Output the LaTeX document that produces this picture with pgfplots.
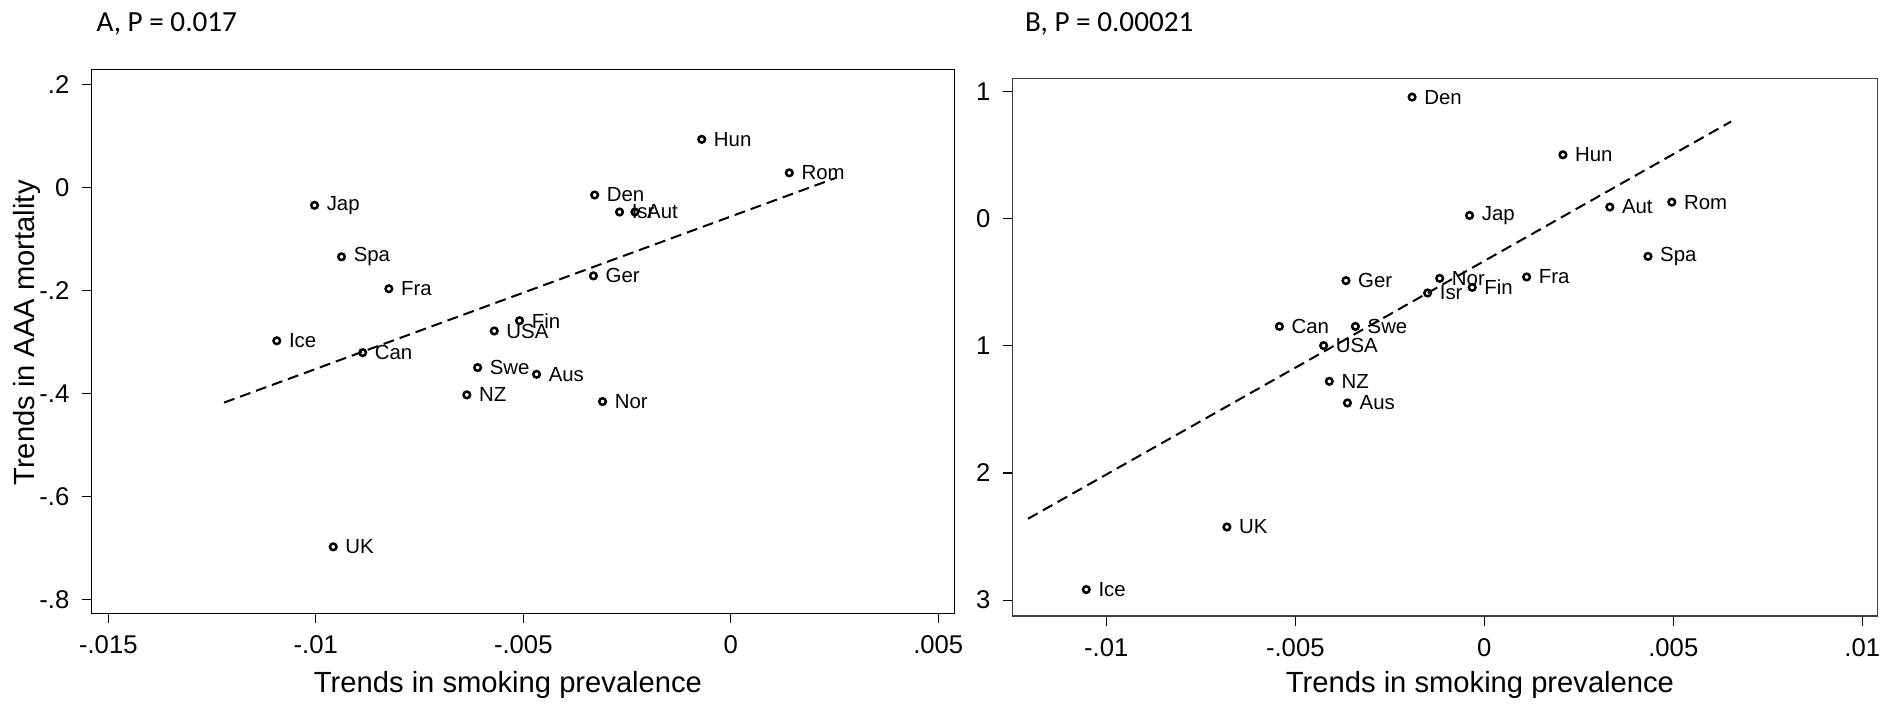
\documentclass[border=0pt]{standalone}
\usepackage{fontspec}
\setmainfont{Liberation Sans}
\newfontfamily\carlito{Carlito}
\usepackage{pgfplots}
\pgfplotsset{compat=1.18}
\usepackage{pgfplotstable}

\pgfplotstableread{
name x y
Hun -0.00070 0.093
Rom 0.00141 0.028
Den -0.00328 -0.015
Isr -0.00268 -0.048
Aut -0.00231 -0.048
Jap -0.01003 -0.035
Spa -0.00938 -0.135
Fra -0.00824 -0.197
Ger -0.00331 -0.172
Fin -0.00509 -0.259
USA -0.00570 -0.279
Ice -0.01094 -0.298
Can -0.00887 -0.321
Swe -0.00610 -0.350
Aus -0.00468 -0.363
NZ -0.00636 -0.403
Nor -0.00309 -0.416
UK -0.00958 -0.698
}\leftdata

\pgfplotstableread{
name x y
Den -0.00191 0.957
Hun 0.00208 0.503
Aut 0.00332 0.092
Rom 0.00496 0.131
Jap -0.00039 0.026
Spa 0.00433 -0.296
Ger -0.00366 -0.487
Nor -0.00118 -0.469
Fin -0.00032 -0.540
Isr -0.00150 -0.584
Fra 0.00112 -0.458
Can -0.00542 -0.847
Swe -0.00341 -0.847
USA -0.00425 -0.998
NZ -0.00410 -1.279
Aus -0.00362 -1.449
UK -0.00681 -2.425
Ice -0.01053 -2.917
}\rightdata

\begin{document}
\begin{tikzpicture}
\useasboundingbox (0,0) rectangle (19.01cm,7.04cm);
\pgfplotsset{
  panel/.style={
    anchor=south west, scale only axis,
    axis line style={line width=0.15mm},
    tick align=outside, xtick pos=bottom, ytick pos=left,
    major tick length=1mm,
    tick style={line width=0.12mm, black},
    ticklabel style={font=\fontsize{7.3}{8}\selectfont},
    scaled x ticks=false, scaled y ticks=false,
  },
  pts/.style={only marks, mark=o, mark size=0.33mm,
    mark options={line width=0.25mm, black},
    nodes near coords, point meta=explicit symbolic,
    every node near coord/.style={anchor=west, font=\fontsize{5.8}{6}\selectfont, inner sep=0pt, xshift=1.1mm}},
  fit/.style={black, line width=0.2mm, dash pattern=on 1.1mm off 0.6mm, forget plot},
}
\begin{axis}[panel, at={(0.917cm,0.907cm)}, width=8.626cm, height=5.44cm,
  xmin=-0.0154, xmax=0.005386, ymin=-0.827, ymax=0.229,
  xtick={-0.015,-0.01,-0.005,0,0.005}, xticklabels={-.015,-.01,-.005,0,.005},
  ytick={-0.8,-0.6,-0.4,-0.2,0,0.2}, yticklabels={-.8,-.6,-.4,-.2,0,.2}]
\addplot[fit] coordinates {(-0.01221,-0.418) (0.00251,0.0175)};
\addplot[pts] table[x=x,y=y,meta=name] \leftdata;
\end{axis}
\begin{axis}[panel, at={(10.127cm,0.88cm)}, width=8.65cm, height=5.376cm,
  axis line style={line width=0.15mm, black!75},
  xmin=-0.012476, xmax=0.010407, ymin=-3.125, ymax=1.104,
  xtick={-0.01,-0.005,0,0.005,0.01}, xticklabels={-.01,-.005,0,.005,.01},
  ytick={-3,-2,-1,0,1}, yticklabels={3,2,1,0,1}]
\addplot[fit] coordinates {(-0.01207,-2.36) (0.00653,0.765)};
\addplot[pts] table[x=x,y=y,meta=name] \rightdata;
\end{axis}
\node[anchor=base west, inner sep=0, font=\carlito\fontsize{8.3}{10}\selectfont] at (0.96cm,6.72cm) {A, P = 0.017};
\node[anchor=base west, inner sep=0, font=\carlito\fontsize{8.3}{10}\selectfont] at (10.245cm,6.72cm) {B, P = 0.00021};
\node[rotate=90, anchor=center, inner sep=0, font=\fontsize{8.3}{10}\selectfont] at (0.27cm,3.71cm) {Trends in AAA mortality};
\node[anchor=base, inner sep=0, font=\fontsize{8.3}{10}\selectfont] at (5.08cm,0.12cm) {Trends in smoking prevalence};
\node[anchor=base, inner sep=0, font=\fontsize{8.3}{10}\selectfont] at (14.80cm,0.12cm) {Trends in smoking prevalence};
\end{tikzpicture}
\end{document}
